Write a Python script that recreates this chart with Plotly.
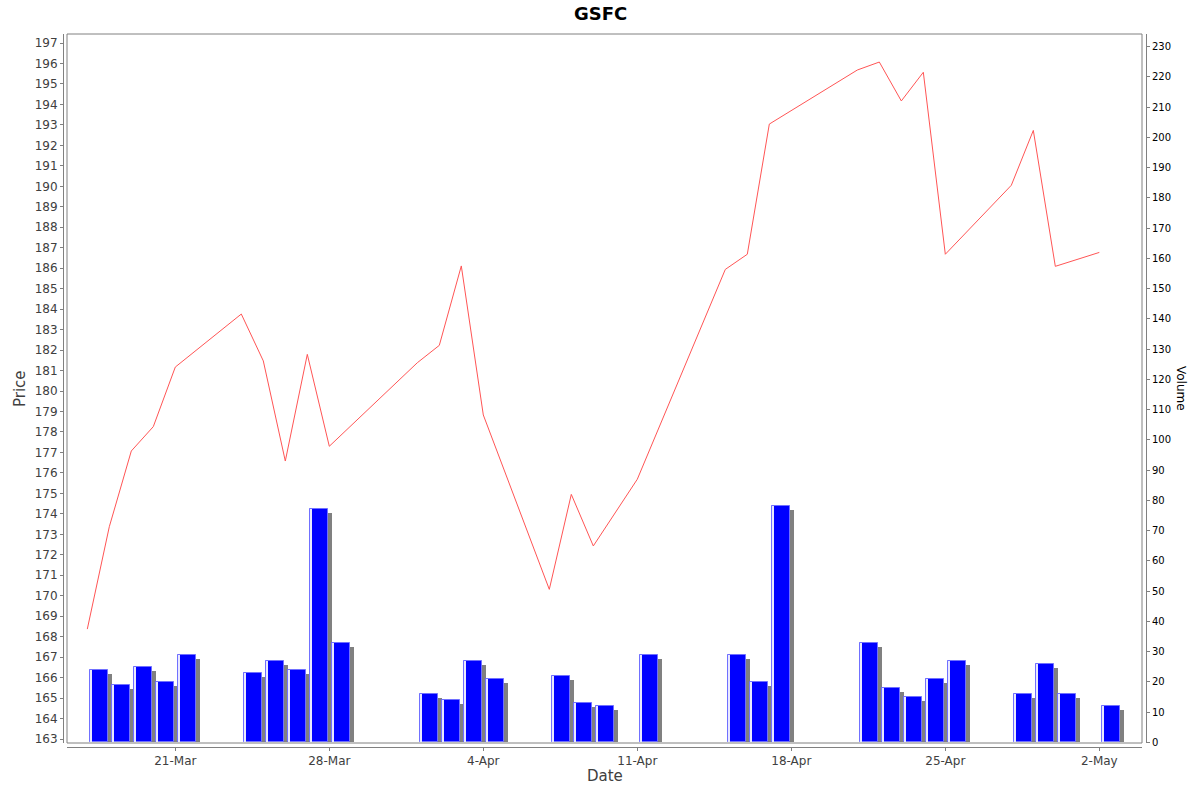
import pandas as pd
import plotly.graph_objects as go

# ---------------- data ----------------
dates = ['2025-03-17', '2025-03-18', '2025-03-19', '2025-03-20', '2025-03-21',
         '2025-03-24', '2025-03-25', '2025-03-26', '2025-03-27', '2025-03-28',
         '2025-04-01', '2025-04-02', '2025-04-03', '2025-04-04',
         '2025-04-07', '2025-04-08', '2025-04-09', '2025-04-11',
         '2025-04-15', '2025-04-16', '2025-04-17',
         '2025-04-21', '2025-04-22', '2025-04-23', '2025-04-24', '2025-04-25',
         '2025-04-28', '2025-04-29', '2025-04-30', '2025-05-02']
price = [168.37, 173.37, 177.07, 178.26, 181.17,
         183.76, 181.47, 176.58, 181.79, 177.30,
         181.38, 182.23, 186.11, 178.83,
         170.31, 174.95, 172.43, 175.69,
         185.94, 186.68, 193.04,
         195.68, 196.07, 194.17, 195.57, 186.68,
         190.05, 192.73, 186.09, 186.77]
volume = [24, 19, 25, 20, 29,
          23, 27, 24, 77, 33,
          16, 14, 27, 21,
          22, 13, 12, 29,
          29, 20, 78,
          33, 18, 15, 21, 27,
          16, 26, 16, 12]
x_tick_start = '2025-03-21'
title_text = 'GSFC'

# ---------------- geometry (page pixels) ----------------
W, H = 1200, 792
L, R, T, B = 63, 1146, 34, 747          # axis lines
PL, PR, PT, PB = 67, 1142, 34, 743      # plot area (inner box)
PW, PH = R - L, B - T

def px(xp):
    return (xp - L) / PW

def py(yp):
    return (B - yp) / PH

DAY = 86400000
x_range = [pd.Timestamp('2025-03-21') - pd.Timedelta(days=4.923),
           pd.Timestamp('2025-05-02') + pd.Timedelta(days=1.94)]
px_day = (PR - PL) / ((x_range[1] - x_range[0]) / pd.Timedelta(days=1))

price_range = [162.805, 197.44]
vol_range = [-0.2, 234.13]
px_vol = (PB - PT) / (vol_range[1] - vol_range[0])

d = pd.to_datetime(dates)
bar_x = d + pd.Timedelta(days=0.52)
shadow_x = bar_x + pd.Timedelta(days=4 / px_day)
stripe_x = d + pd.Timedelta(days=(91.6 - 87.3) / px_day)
shadow_y = [v - 4 / px_vol for v in volume]

fig = go.Figure()

fig.add_trace(go.Bar(x=shadow_x, y=shadow_y, width=0.8 * DAY, yaxis='y',
                     marker=dict(color='#808080', line=dict(width=0)),
                     showlegend=False, hoverinfo='skip'))
fig.add_trace(go.Bar(x=bar_x, y=volume, width=0.8 * DAY, yaxis='y',
                     marker=dict(color='#0000FF', line=dict(width=1, color='#7070FF')),
                     showlegend=False, name='Volume'))
fig.add_trace(go.Bar(x=stripe_x, y=volume, width=1.3 / px_day * DAY, yaxis='y',
                     marker=dict(color='#E8E8FF', line=dict(width=0)),
                     showlegend=False, hoverinfo='skip'))
fig.add_trace(go.Scatter(x=d, y=price, yaxis='y2', mode='lines',
                         line=dict(color='#FF5555', width=1),
                         showlegend=False, name='Price'))

axis_color = '#808080'
tick_font = dict(family='DejaVu Sans', size=12, color='#404040')

fig.update_layout(
    width=W, height=H,
    margin=dict(l=L, r=W - R, t=T, b=H - B, pad=0),
    paper_bgcolor='white', plot_bgcolor='white',
    barmode='overlay', bargap=0,
    xaxis=dict(domain=[px(PL), px(PR)], anchor='free', position=0,
               type='date', range=x_range,
               tick0=x_tick_start, dtick=7 * DAY, tickformat='%-d-%b',
               showgrid=False, zeroline=False,
               showline=True, linecolor=axis_color, linewidth=1,
               ticks='outside', ticklen=3, tickcolor=axis_color,
               tickfont=tick_font),
    yaxis=dict(domain=[py(PB), py(PT)], anchor='free', position=1, side='right',
               range=vol_range, tick0=0, dtick=10,
               showgrid=False, zeroline=False,
               showline=True, linecolor=axis_color, linewidth=1,
               ticks='outside', ticklen=3, tickcolor=axis_color,
               tickfont=dict(family='DejaVu Sans', size=10, color='#000000')),
    yaxis2=dict(domain=[py(PB), py(PT)], anchor='free', position=0, side='left',
                overlaying='y', range=price_range, tick0=163, dtick=1,
                showgrid=False, zeroline=False,
                showline=True, linecolor=axis_color, linewidth=1,
                ticks='outside', ticklen=3, tickcolor=axis_color,
                tickfont=tick_font),
    shapes=[dict(type='rect', xref='paper', yref='paper',
                 x0=px(PL), x1=px(PR), y0=py(PB), y1=py(PT),
                 line=dict(color=axis_color, width=1), layer='above')],
    annotations=[
        dict(text='<b>' + title_text + '</b>', xref='paper', yref='paper',
             x=px(600), y=py(14), showarrow=False,
             font=dict(family='DejaVu Sans', size=18, color='#000000'),
             xanchor='center', yanchor='middle'),
        dict(text='Price', xref='paper', yref='paper', x=px(20), y=py(389),
             showarrow=False, textangle=-90,
             font=dict(family='DejaVu Sans', size=15, color='#404040'),
             xanchor='center', yanchor='middle'),
        dict(text='Date', xref='paper', yref='paper', x=px(605), y=py(776),
             showarrow=False,
             font=dict(family='DejaVu Sans', size=15, color='#404040'),
             xanchor='center', yanchor='middle'),
        dict(text='Volume', xref='paper', yref='paper', x=px(1181), y=py(388),
             showarrow=False, textangle=90,
             font=dict(family='DejaVu Sans', size=12, color='#000000'),
             xanchor='center', yanchor='middle'),
    ],
)

fig.write_html('out.html',
               config={'displayModeBar': False},
               post_script="document.body.style.margin='0';"
                           "document.body.style.overflow='hidden';")
